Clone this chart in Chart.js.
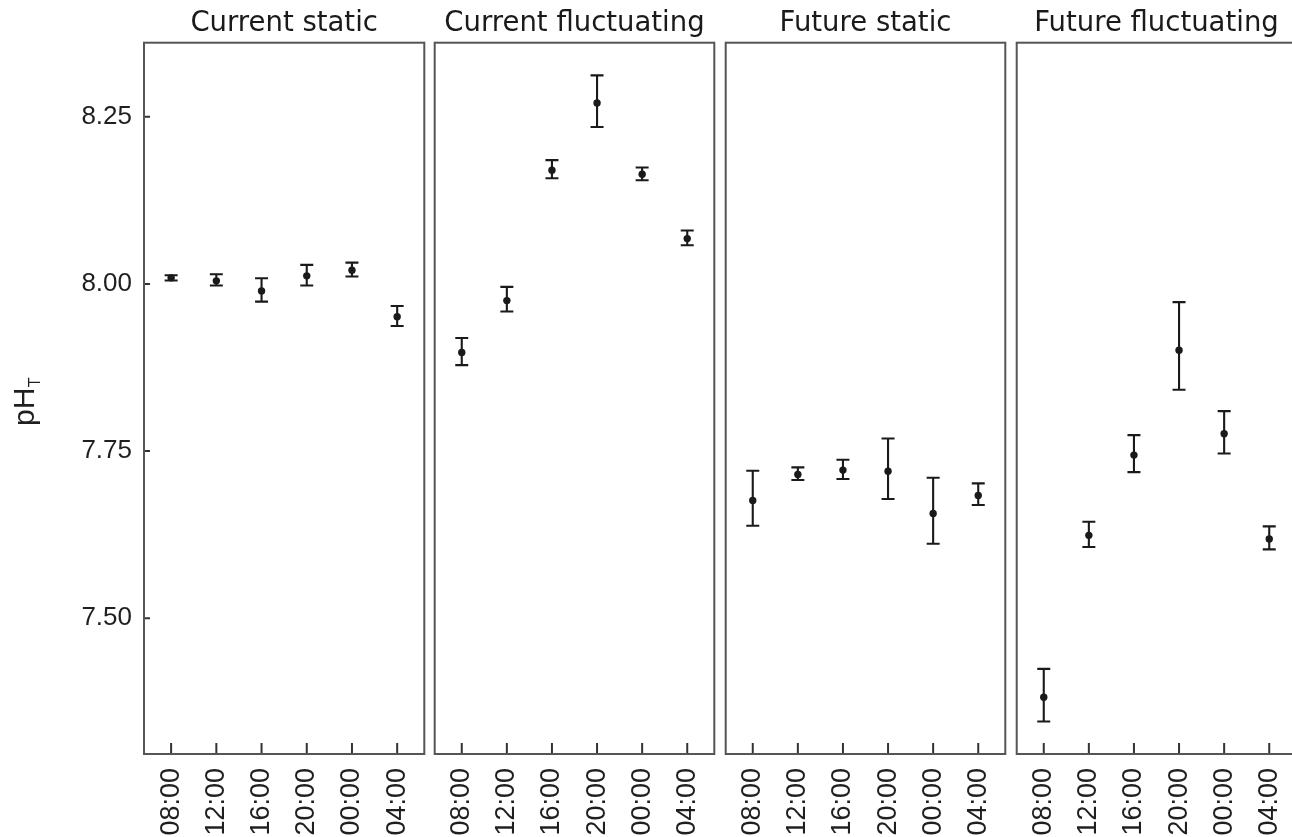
<!DOCTYPE html>
<html><head><meta charset="utf-8">
<script src="https://cdn.jsdelivr.net/npm/chart.js@4.4.1/dist/chart.umd.min.js"></script>
<style>
html,body{margin:0;padding:0;background:#fff;overflow:hidden;width:1292px;height:837px;position:relative;}
canvas{position:absolute;top:0;}
</style></head><body>
<script>
// ---- data ----
const panelTitles = ['Current static', 'Current fluctuating', 'Future static', 'Future fluctuating'];
const timeLabels = ['08:00', '12:00', '16:00', '20:00', '00:00', '04:00'];
const yTickValues = [7.50, 7.75, 8.00, 8.25];
const yAxisTitle = 'pH';
const yAxisSub = 'T';

const currentStaticMean = [8.009, 8.0045, 7.9895, 8.012, 8.0204, 7.951];
const currentStaticLow  = [8.005, 7.9975, 7.9735, 7.9975, 8.011, 7.937];
const currentStaticHigh = [8.013, 8.0145, 8.0085, 8.0284, 8.0318, 7.967];

const currentFluctMean = [7.8974, 7.975, 8.170, 8.2704, 8.164, 8.0677];
const currentFluctLow  = [7.8785, 7.9586, 8.158, 8.2346, 8.155, 8.0578];
const currentFluctHigh = [7.919, 7.9955, 8.185, 8.3118, 8.174, 8.0797];

const futureStaticMean = [7.6763, 7.7151, 7.7216, 7.720, 7.6568, 7.6837];
const futureStaticLow  = [7.6384, 7.7067, 7.7082, 7.6783, 7.6115, 7.6693];
const futureStaticHigh = [7.7206, 7.7256, 7.737, 7.7689, 7.7101, 7.7017];

const futureFluctMean = [7.3819, 7.624, 7.744, 7.9009, 7.7759, 7.6185];
const futureFluctLow  = [7.3456, 7.6066, 7.7186, 7.8416, 7.7465, 7.603];
const futureFluctHigh = [7.4243, 7.6444, 7.7739, 7.9727, 7.8098, 7.6375];

const panelMeans = [currentStaticMean, currentFluctMean, futureStaticMean, futureFluctMean];
const panelLows  = [currentStaticLow, currentFluctLow, futureStaticLow, futureFluctLow];
const panelHighs = [currentStaticHigh, currentFluctHigh, futureStaticHigh, futureFluctHigh];

// ---- layout ----
const Y_MIN = 7.2971, Y_MAX = 8.3606;
const PANEL_LEFTS = [144, 434.3, 725.3, 1016];
const PANEL_W = 280.3;
const CANVAS_H = 837;
const X_AXIS_H = 83;
const Y_AXIS_W = 144;

const INK = '#1a1a1a';
const TEXT = '#1f1f1f';
const BORDER = '#555555';

function makeDeco(idx) {
  return {
    id: 'deco' + idx,
    beforeDatasetsDraw(chart) {
      const { ctx, scales: { x, y } } = chart;
      const lo = panelLows[idx], hi = panelHighs[idx];
      ctx.save();
      ctx.strokeStyle = INK;
      ctx.lineWidth = 2.1;
      lo.forEach((l, i) => {
        const px = x.getPixelForValue(i);
        const pl = y.getPixelForValue(l);
        const ph = y.getPixelForValue(hi[i]);
        ctx.beginPath();
        ctx.moveTo(px, pl); ctx.lineTo(px, ph);
        ctx.moveTo(px - 6.5, pl); ctx.lineTo(px + 6.5, pl);
        ctx.moveTo(px - 6.5, ph); ctx.lineTo(px + 6.5, ph);
        ctx.stroke();
      });
      ctx.restore();
    },
    afterDraw(chart) {
      const { ctx, chartArea: a, scales: { x, y } } = chart;
      ctx.save();
      ctx.strokeStyle = '#333333';
      ctx.lineWidth = 2;
      ctx.beginPath();
      x.ticks.forEach(t => {
        const px = x.getPixelForValue(t.value);
        ctx.moveTo(px, a.bottom); ctx.lineTo(px, a.bottom - 11);
      });
      if (idx === 0) {
        y.ticks.forEach(t => {
          const py = y.getPixelForValue(t.value);
          ctx.moveTo(a.left, py); ctx.lineTo(a.left + 6, py);
        });
      }
      ctx.stroke();
      ctx.strokeStyle = BORDER;
      ctx.lineWidth = 2;
      ctx.strokeRect(a.left, a.top, a.right - a.left, a.bottom - a.top);
      if (idx === 0) {
        ctx.fillStyle = TEXT;
        ctx.translate(33.5, 426);
        ctx.rotate(-Math.PI / 2);
        ctx.textAlign = 'left';
        ctx.textBaseline = 'alphabetic';
        ctx.font = '30px "Liberation Sans", Arial, sans-serif';
        ctx.fillText(yAxisTitle, 0, 0);
        const w = ctx.measureText(yAxisTitle).width;
        ctx.font = '16px "Liberation Sans", Arial, sans-serif';
        ctx.fillText(yAxisSub, w + 0.5, 6);
      }
      ctx.restore();
    }
  };
}

panelTitles.forEach((title, idx) => {
  const cv = document.createElement('canvas');
  let left, width, padL, padR;
  if (idx === 0) {
    left = 0; width = 428; padL = 0;
    padR = width - Y_AXIS_W - PANEL_W;
  } else {
    left = Math.floor(PANEL_LEFTS[idx]) - 3; width = 287;
    padL = PANEL_LEFTS[idx] - left;
    padR = width - padL - PANEL_W;
  }
  cv.width = width; cv.height = CANVAS_H;
  cv.style.left = left + 'px';
  cv.style.width = width + 'px';
  cv.style.height = CANVAS_H + 'px';
  document.body.appendChild(cv);

  new Chart(cv, {
    type: 'scatter',
    data: {
      datasets: [{
        data: panelMeans[idx].map((v, i) => ({ x: i, y: v })),
        backgroundColor: INK,
        borderColor: INK,
        borderWidth: 0,
        pointRadius: 3.7,
        pointHoverRadius: 3.7
      }]
    },
    options: {
      responsive: false,
      animation: false,
      devicePixelRatio: 1,
      layout: { padding: { left: padL, right: padR, top: 0, bottom: 0 } },
      plugins: {
        legend: { display: false },
        tooltip: { enabled: false },
        title: {
          display: true,
          text: title,
          fullSize: false,
          color: INK,
          font: { family: '"DejaVu Sans", Verdana, sans-serif', size: 27.5, weight: 'normal', lineHeight: 1.2 },
          padding: { top: 7, bottom: 2.7 }
        }
      },
      scales: {
        x: {
          type: 'linear',
          min: -0.6, max: 5.6,
          grid: { display: false, drawTicks: false, tickLength: 0 },
          border: { display: false },
          afterBuildTicks: s => { s.ticks = timeLabels.map((_, i) => ({ value: i })); },
          afterFit: s => { s.height = X_AXIS_H; s.paddingLeft = 0; s.paddingRight = 0; },
          ticks: {
            autoSkip: false,
            minRotation: 90, maxRotation: 90,
            padding: 14,
            color: TEXT,
            font: { family: '"Liberation Sans", Arial, sans-serif', size: 27 },
            callback: v => timeLabels[v] ?? ''
          }
        },
        y: {
          type: 'linear',
          display: idx === 0,
          min: Y_MIN, max: Y_MAX,
          grid: { display: false, drawTicks: false, tickLength: 0 },
          border: { display: false },
          afterBuildTicks: s => { s.ticks = yTickValues.map(v => ({ value: v })); },
          afterFit: s => { s.width = idx === 0 ? Y_AXIS_W : 0; s.paddingTop = 0; s.paddingBottom = 0; },
          ticks: {
            padding: 12,
            color: TEXT,
            font: { family: '"Liberation Sans", Arial, sans-serif', size: 26 },
            callback: v => Number(v).toFixed(2)
          }
        }
      }
    },
    plugins: [makeDeco(idx)]
  });
});
</script>
</body></html>
